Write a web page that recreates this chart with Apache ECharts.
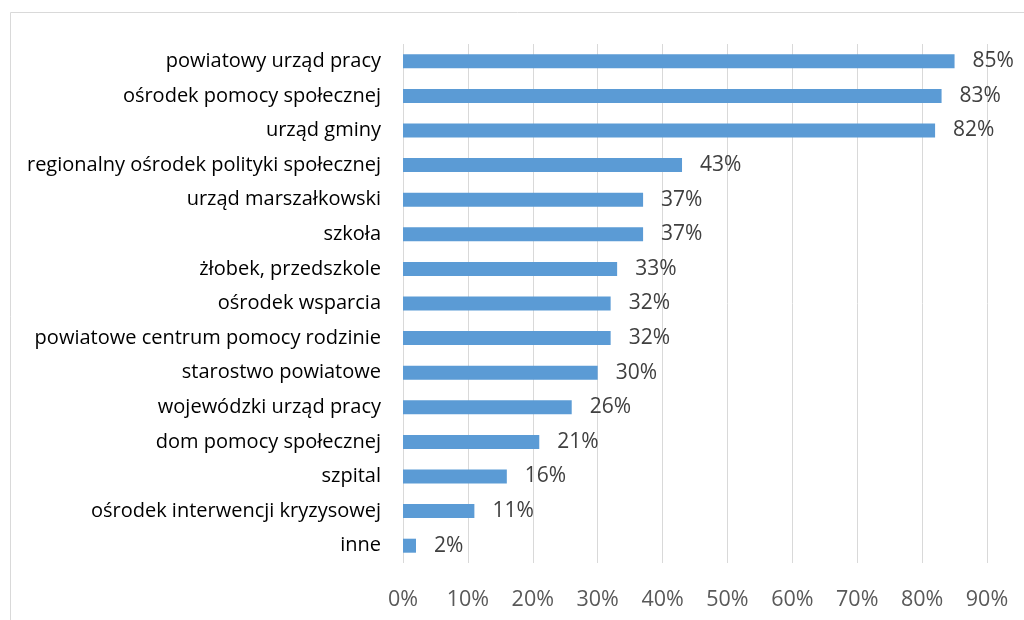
<!DOCTYPE html>
<html><head><meta charset="utf-8">
<script src="https://cdn.jsdelivr.net/npm/echarts@6/dist/echarts.min.js"></script>
<style>html,body{margin:0;padding:0;background:#fff}#c{width:1024px;height:620px}</style>
</head><body><div id="c"></div>
<script>
const categories = ["powiatowy urząd pracy","ośrodek pomocy społecznej","urząd gminy","regionalny ośrodek polityki społecznej","urząd marszałkowski","szkoła","żłobek, przedszkole","ośrodek wsparcia","powiatowe centrum pomocy rodzinie","starostwo powiatowe","wojewódzki urząd pracy","dom pomocy społecznej","szpital","ośrodek interwencji kryzysowej","inne"];
const values = [85,83,82,43,37,37,33,32,32,30,26,21,16,11,2];
const chart = echarts.init(document.getElementById('c'));
chart.setOption({
  animation:false,
  graphic:[{type:'rect',shape:{x:10.5,y:12.5,width:1040,height:640},style:{fill:'none',stroke:'#d9d9d9',lineWidth:1}}],
  grid:{left:403,right:37,top:44,bottom:57,containLabel:false},
  xAxis:{type:'value',min:0,max:90,interval:10,
    axisLabel:{formatter:v=>v+'%',color:'#595959',fontSize:21.5,fontFamily:'Open Sans',margin:26},
    splitLine:{lineStyle:{color:'#d9d9d9',width:1}},axisLine:{show:false},axisTick:{show:false}},
  yAxis:{type:'category',data:categories,inverse:true,
    axisLabel:{color:'#000',fontSize:20,fontFamily:'Open Sans',margin:22},
    axisLine:{show:false},axisTick:{show:false}},
  series:[{type:'bar',data:values,barWidth:14,itemStyle:{color:'#5b9bd5'},
    label:{show:true,position:'right',distance:18,formatter:p=>p.value+'%',color:'#404040',fontSize:21,fontFamily:'Open Sans'}}]
});
</script></body></html>
